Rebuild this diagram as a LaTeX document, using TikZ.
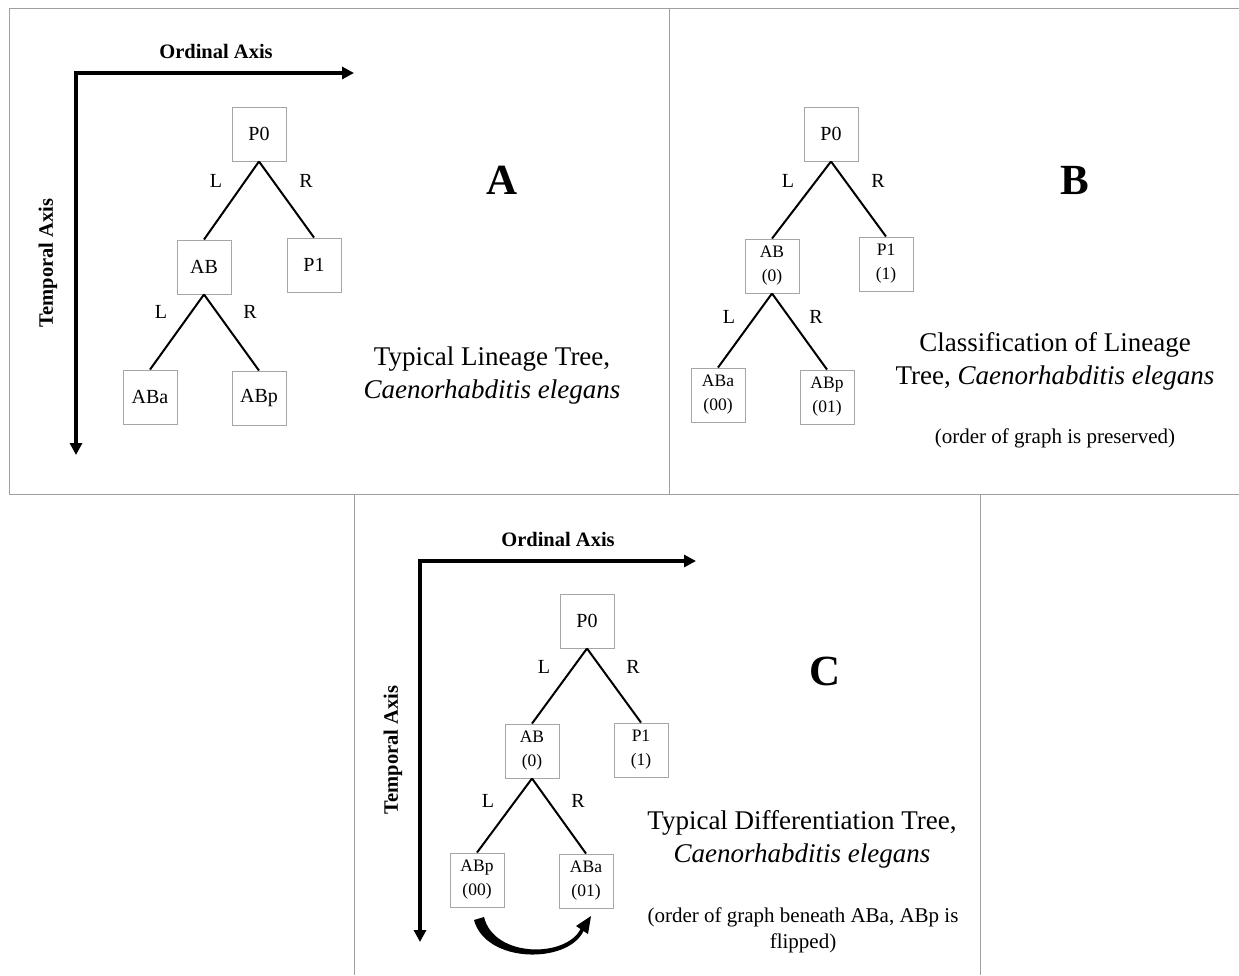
\documentclass[tikz,border=0pt]{standalone}
\usepackage{fontspec}
\setmainfont{Liberation Serif}
\usetikzlibrary{arrows.meta}
\begin{document}
\begin{tikzpicture}[x=1pt,y=-1pt,
  frame/.style={draw=gray!75, line width=1pt},
  cell/.style={draw=gray!70, line width=0.9pt, minimum width=54pt, minimum height=54pt, inner sep=0pt, align=center, font=\fontsize{20}{22}\selectfont},
  cellb/.style={cell, font=\fontsize{17.5}{24}\selectfont},
  branch/.style={line width=2pt},
  axis/.style={line width=3.5pt, line join=miter, {Triangle[length=12pt,width=12pt]}-{Triangle[length=12pt,width=12pt]}},
  lab/.style={font=\fontsize{20}{22}\selectfont},
  axlab/.style={font=\bfseries\fontsize{20.5}{22}\selectfont},
  letter/.style={font=\bfseries\fontsize{43}{45}\selectfont},
  captext/.style={font=\fontsize{27}{33}\selectfont, align=center},
  note/.style={font=\fontsize{21}{26}\selectfont, align=center}
]
\useasboundingbox (0,0) rectangle (1239,975);
% frames
\draw[frame] (9,494) -- (9,8) -- (1239,8);
\draw[frame] (9,494) -- (1239,494);
\draw[frame] (669,8) -- (669,494);
\draw[frame] (354,494) -- (354,975);
\draw[frame] (980,494) -- (980,975);

% ---------- Panel A ----------
\coordinate (aC) at (76,73);
\coordinate (aX) at (354,73);
\coordinate (aY) at (76,455);
\draw[axis] (aY) -- (aC) -- (aX);
\node[axlab] (aord) at (216,51) {Ordinal Axis};
\node[axlab, rotate=90] (atemp) at (48,263) {Temporal Axis};

\node[cell] (aP0) at (259,134) {P0};
\node[cell] (aAB) at (204,267) {AB};
\node[cell] (aP1) at (314,265) {P1};
\node[cell] (aABa) at (150,397) {ABa};
\node[cell] (aABp) at (259,398) {ABp};
\draw[branch] (aP0.south) -- (aAB.north);
\draw[branch] (aP0.south) -- (aP1.north);
\draw[branch] (aAB.south) -- (aABa.north);
\draw[branch] (aAB.south) -- (aABp.north);
\node[lab] (aL1) at (216,181) {L};
\node[lab] (aR1) at (306,181) {R};
\node[lab] (aL2) at (161,312) {L};
\node[lab] (aR2) at (250,312) {R};
\node[letter] (aA) at (502,180) {A};
\node[captext] (acap) at (492,375) {Typical Lineage Tree,\\ \itshape Caenorhabditis elegans};

% ---------- Panel B ----------
\node[cell] (bP0) at (831,134) {P0};
\node[cellb] (bAB) at (772,266) {AB\\(0)};
\node[cellb] (bP1) at (886,264) {P1\\(1)};
\node[cellb] (bABa) at (718,395) {ABa\\(00)};
\node[cellb] (bABp) at (827,397) {ABp\\(01)};
\draw[branch] (bP0.south) -- (bAB.north);
\draw[branch] (bP0.south) -- (bP1.north);
\draw[branch] (bAB.south) -- (bABa.north);
\draw[branch] (bAB.south) -- (bABp.north);
\node[lab] (bL1) at (788,181) {L};
\node[lab] (bR1) at (878,181) {R};
\node[lab] (bL2) at (729,317) {L};
\node[lab] (bR2) at (816,317) {R};
\node[letter] (bB) at (1075,180) {B};
\node[captext] (bcap) at (1055,361) {Classification of Lineage\\ Tree, \itshape Caenorhabditis elegans};
\node[note] (bnote) at (1055,438) {(order of graph is preserved)};

% ---------- Panel C ----------
\coordinate (cC) at (420,561);
\coordinate (cX) at (696,561);
\coordinate (cY) at (420,942);
\draw[axis] (cY) -- (cC) -- (cX);
\node[axlab] (cord) at (558,539) {Ordinal Axis};
\node[axlab, rotate=90] (ctemp) at (393,750) {Temporal Axis};

\node[cell] (cP0) at (587,621) {P0};
\node[cellb] (cAB) at (532,751) {AB\\(0)};
\node[cellb] (cP1) at (641,750) {P1\\(1)};
\node[cellb] (cABp) at (477,880) {ABp\\(00)};
\node[cellb] (cABa) at (586,881) {ABa\\(01)};
\draw[branch] (cP0.south) -- (cAB.north);
\draw[branch] (cP0.south) -- (cP1.north);
\draw[branch] (cAB.south) -- (cABp.north);
\draw[branch] (cAB.south) -- (cABa.north);
\node[lab] (cL1) at (544,667) {L};
\node[lab] (cR1) at (633,667) {R};
\node[lab] (cL2) at (488,801) {L};
\node[lab] (cR2) at (578,801) {R};
\node[letter] (cCl) at (825,671) {C};
\node[captext] (ccap) at (802,839) {Typical Differentiation Tree,\\ \itshape Caenorhabditis elegans};
\node[note] (cnote) at (803,930) {(order of graph beneath ABa, ABp is\\ flipped)};

% flip arrow
\fill (474,920) .. controls (486,964) and (568,964) .. (583.5,931) -- (588,934) -- (591,916) -- (576,926) -- (580.5,929) .. controls (566,958) and (494,958) .. (484,917) -- cycle;
\end{tikzpicture}
\end{document}
